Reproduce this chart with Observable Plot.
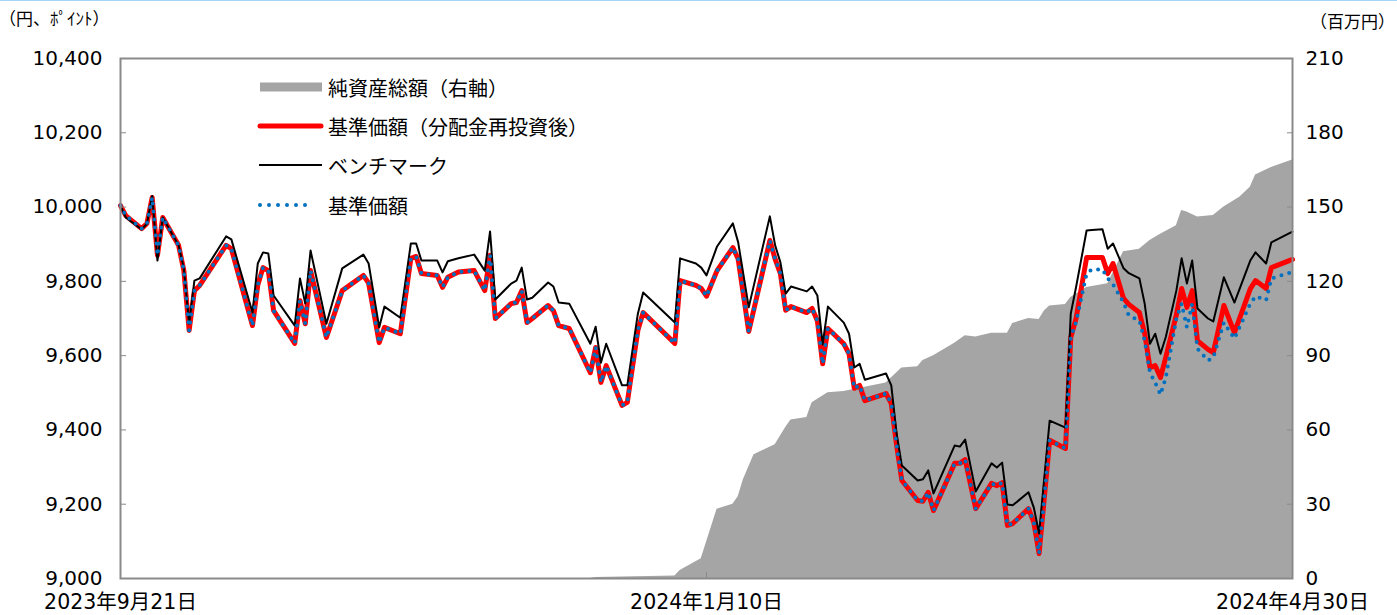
<!DOCTYPE html>
<html><head><meta charset="utf-8">
<script src="https://cdn.jsdelivr.net/npm/d3@7"></script>
<script src="https://cdn.jsdelivr.net/npm/@observablehq/plot@0.6"></script>
<style>
body{margin:0;background:#fff;}
#wrap{position:relative;width:1397px;height:615px;overflow:hidden;}
#topline{position:absolute;left:0;top:0;width:1397px;height:1px;background:#a3d6f5;}
.unit{position:absolute;font-family:"Noto Sans CJK JP",sans-serif;color:#000;white-space:nowrap;line-height:1;}
#legend{position:absolute;left:0;top:0;pointer-events:none;}
#legend text{font-family:"Noto Sans CJK JP",sans-serif;font-size:20px;fill:#000;dominant-baseline:central;}
</style></head><body>
<div id="wrap"><div id="topline"></div></div>
<script>
// ---- data ----
const dates = [
"2023-09-21","2023-09-22","2023-09-25","2023-09-26","2023-09-27","2023-09-28","2023-09-29","2023-10-02","2023-10-03","2023-10-04",
"2023-10-05","2023-10-06","2023-10-11","2023-10-12","2023-10-16","2023-10-17","2023-10-18","2023-10-19","2023-10-20","2023-10-24",
"2023-10-25","2023-10-26","2023-10-27","2023-10-30","2023-11-02","2023-11-06","2023-11-07","2023-11-09","2023-11-10","2023-11-13",
"2023-11-15","2023-11-16","2023-11-17","2023-11-20","2023-11-21","2023-11-22","2023-11-24","2023-11-27","2023-11-29","2023-11-30",
"2023-12-01","2023-12-04","2023-12-05","2023-12-06","2023-12-07","2023-12-08","2023-12-11","2023-12-12","2023-12-13","2023-12-15",
"2023-12-19","2023-12-20","2023-12-21","2023-12-22","2023-12-25","2023-12-26","2023-12-28","2023-12-29","2024-01-04","2024-01-05",
"2024-01-08","2024-01-09","2024-01-10","2024-01-12","2024-01-15","2024-01-16","2024-01-18","2024-01-22","2024-01-23","2024-01-24",
"2024-01-25","2024-01-26","2024-01-29","2024-01-30","2024-01-31","2024-02-01","2024-02-02","2024-02-05","2024-02-06","2024-02-07",
"2024-02-08","2024-02-09","2024-02-13","2024-02-14","2024-02-15","2024-02-16","2024-02-19","2024-02-20","2024-02-21","2024-02-22",
"2024-02-26","2024-02-27","2024-02-28","2024-03-01","2024-03-04","2024-03-05","2024-03-06","2024-03-07","2024-03-08","2024-03-11",
"2024-03-12","2024-03-13","2024-03-15","2024-03-18","2024-03-19","2024-03-20","2024-03-22","2024-03-23","2024-03-25","2024-03-26",
"2024-03-27","2024-03-29","2024-03-30","2024-04-01","2024-04-02","2024-04-03","2024-04-04","2024-04-05","2024-04-06","2024-04-08",
"2024-04-09","2024-04-10","2024-04-11","2024-04-12","2024-04-14","2024-04-15","2024-04-17","2024-04-19","2024-04-22","2024-04-23",
"2024-04-25","2024-04-26","2024-04-30"
];
// 基準価額（分配金再投資後）
const navReinvest = [
10004,9977,9942,9956,10026,9870,9972,9897,9829,9668,
9775,9789,9897,9888,9681,9790,9837,9829,9721,9633,
9748,9686,9829,9649,9775,9816,9795,9635,9676,9659,
9862,9867,9821,9816,9784,9811,9825,9829,9775,9870,
9700,9740,9743,9775,9689,9700,9735,9721,9681,9673,
9554,9622,9528,9573,9466,9474,9668,9716,9633,9802,
9789,9781,9760,9829,9891,9860,9665,9910,9860,9821,
9722,9732,9716,9727,9694,9578,9673,9632,9605,9512,
9520,9479,9498,9471,9360,9264,9210,9208,9232,9183,
9310,9310,9320,9188,9256,9250,9258,9143,9148,9188,
9151,9067,9372,9350,9649,9700,9864,9864,9864,9821,
9848,9754,9738,9716,9660,9568,9573,9541,9596,9710,
9781,9730,9775,9640,9617,9608,9735,9662,9780,9802,
9781,9837,9859
];
// ベンチマーク
const benchmark = [
10004,9972,9940,9955,10030,9856,9972,9897,9835,9686,
9802,9808,9921,9913,9716,9848,9878,9875,9762,9681,
9808,9740,9883,9686,9835,9872,9848,9676,9732,9702,
9902,9902,9856,9856,9824,9854,9862,9872,9829,9934,
9751,9794,9802,9837,9751,9756,9797,9786,9743,9740,
9632,9678,9581,9632,9520,9520,9713,9770,9689,9862,
9848,9837,9816,9894,9956,9905,9730,9975,9897,9851,
9767,9786,9773,9786,9762,9630,9732,9689,9659,9568,
9578,9535,9552,9520,9391,9304,9264,9267,9291,9229,
9358,9355,9374,9234,9310,9299,9312,9199,9197,9232,
9191,9121,9425,9406,9713,9784,9937,9938,9940,9888,
9902,9835,9822,9808,9740,9632,9659,9605,9650,9775,
9862,9794,9856,9727,9700,9692,9811,9743,9856,9878,
9848,9905,9934
];
// 基準価額
const navPrice = [
10004,9977,9942,9956,10026,9870,9972,9897,9829,9668,
9775,9789,9897,9888,9681,9790,9837,9829,9721,9633,
9748,9686,9829,9649,9775,9816,9795,9635,9676,9659,
9862,9867,9821,9816,9784,9811,9825,9829,9775,9870,
9700,9740,9743,9775,9689,9700,9735,9721,9681,9673,
9554,9622,9528,9573,9466,9474,9668,9716,9633,9802,
9789,9781,9760,9829,9891,9860,9665,9910,9860,9821,
9722,9732,9716,9727,9694,9578,9673,9632,9605,9512,
9520,9479,9498,9471,9360,9264,9210,9208,9232,9183,
9310,9310,9320,9188,9256,9250,9258,9143,9148,9188,
9151,9067,9372,9350,9649,9690,9821,9832,9832,9808,
9792,9743,9708,9694,9640,9554,9527,9495,9541,9700,
9740,9676,9740,9619,9587,9595,9689,9646,9740,9760,
9749,9808,9825
];
// 純資産総額（百万円）
const assetDates = [
"2023-09-21","2023-12-19","2023-12-20","2024-01-04","2024-01-05","2024-01-09","2024-01-12","2024-01-15","2024-01-16","2024-01-17",
"2024-01-19","2024-01-23","2024-01-25","2024-01-26","2024-01-29","2024-01-30","2024-02-02","2024-02-05","2024-02-13","2024-02-16",
"2024-02-19","2024-02-20","2024-02-22","2024-02-26","2024-02-28","2024-03-01","2024-03-04","2024-03-07","2024-03-08","2024-03-11",
"2024-03-13","2024-03-14","2024-03-15","2024-03-18","2024-03-19","2024-03-22","2024-03-26","2024-03-29","2024-04-01","2024-04-03",
"2024-04-05","2024-04-08","2024-04-09","2024-04-10","2024-04-12","2024-04-15","2024-04-17","2024-04-20","2024-04-22","2024-04-23",
"2024-04-24","2024-04-26","2024-04-30"
];
const netAssets = [
0,0,0.4,1,3.2,8,28,30,33,40,
50,54,61,64,65,71,75,75.5,79,85,
85.5,88,90,95,98,97.5,99,99,103,105,
104.6,108,110,110.7,113.5,117.5,119,132,133,136.5,
139,142.5,148.6,148,146,146.6,150,154,158,163,
164,166,169
];
const leftTicks = [9000,9200,9400,9600,9800,10000,10200,10400];
const xTickDates = ["2023-09-21","2024-01-10","2024-04-30"];

// ---- build ----
const main = dates.map((d,i)=>({date:new Date(d), nav:navReinvest[i], bench:benchmark[i], price:navPrice[i]}));
const area = assetDates.map((d,i)=>({date:new Date(d), v:netAssets[i]}));
const toLeft = v => 9000 + v*1400/210;
const xTicks = xTickDates.map(s=>new Date(s));
const fmtDate = d => `${d.getUTCFullYear()}年${d.getUTCMonth()+1}月${d.getUTCDate()}日`;
const axisGray = "#8a8a8a";

const chart = Plot.plot({
  width:1397, height:615, marginTop:58, marginBottom:37, marginLeft:120, marginRight:105,
  style:{fontFamily:'"DejaVu Sans","Noto Sans CJK JP",sans-serif', fontSize:"20px", color:"#000", background:"transparent"},
  x:{type:"utc", domain:[new Date("2023-09-21"), new Date("2024-04-30")]},
  y:{domain:[9000,10400]},
  marks:[
    Plot.areaY(area,{x:"date", y1:9000, y2:d=>toLeft(d.v), fill:"#a5a5a5"}),
    Plot.lineY(main,{x:"date", y:"nav", stroke:"#ff0000", strokeWidth:5, strokeLinejoin:"round", strokeLinecap:"round"}),
    Plot.lineY(main,{x:"date", y:"bench", stroke:"#000", strokeWidth:2}),
    Plot.lineY(main,{x:"date", y:"price", stroke:"#0070c0", strokeWidth:4, strokeDasharray:"0 8", strokeLinecap:"round"}),
    Plot.frame({stroke:axisGray, strokeWidth:2}),
    Plot.axisY(leftTicks,{anchor:"left", tickSize:0, tickPadding:18, tickFormat:d3.format(","), label:null}),
    Plot.axisY(leftTicks,{anchor:"left", tickSize:6, dx:6, tickFormat:()=>"", label:null, stroke:axisGray}),
    Plot.axisY(leftTicks,{anchor:"right", tickSize:0, tickPadding:13, tickFormat:d=>String(Math.round((d-9000)*210/1400)), label:null}),
    Plot.axisY(leftTicks,{anchor:"right", tickSize:6, dx:-6, tickFormat:()=>"", label:null, stroke:axisGray}),
    Plot.axisX(xTicks,{anchor:"bottom", tickSize:0, tickPadding:16, tickFormat:fmtDate, label:null, fontSize:20.5}),
    Plot.axisX(xTicks.slice(1,2),{anchor:"bottom", tickSize:6, dy:-6, tickFormat:()=>"", label:null, stroke:axisGray})
  ]
});
const wrap = document.getElementById("wrap");
wrap.appendChild(chart);

// unit labels
const u1 = document.createElement("div"); u1.className="unit"; u1.style.left="-1px"; u1.style.top="9px"; u1.style.fontSize="17px"; u1.textContent="（円、ﾎﾟｲﾝﾄ）"; wrap.appendChild(u1);
const u2 = document.createElement("div"); u2.className="unit"; u2.style.right="2px"; u2.style.top="12px"; u2.style.fontSize="17px"; u2.textContent="（百万円）"; wrap.appendChild(u2);

// legend
const legendItems = ["純資産総額（右軸）","基準価額（分配金再投資後）","ベンチマーク","基準価額"];
const ns = "http://www.w3.org/2000/svg";
const lg = document.createElementNS(ns,"svg");
lg.setAttribute("id","legend"); lg.setAttribute("width",1397); lg.setAttribute("height",615);
const rows = [87,126,165,205];
const el = (tag, attrs) => { const e = document.createElementNS(ns,tag); for (const k in attrs) e.setAttribute(k, attrs[k]); lg.appendChild(e); return e; };
el("rect",{x:260,y:rows[0]-4.5,width:62,height:9,fill:"#a5a5a5"});
el("line",{x1:260,x2:321,y1:rows[1],y2:rows[1],stroke:"#ff0000","stroke-width":5,"stroke-linecap":"round"});
el("line",{x1:259,x2:322,y1:rows[2],y2:rows[2],stroke:"#000","stroke-width":2});
el("line",{x1:260,x2:314,y1:rows[3],y2:rows[3],stroke:"#0070c0","stroke-width":4,"stroke-dasharray":"0 9","stroke-linecap":"round"});
legendItems.forEach((t,i)=>{ const tx = el("text",{x:328,y:rows[i]}); tx.textContent=t; });
wrap.appendChild(lg);
</script>
</body></html>
